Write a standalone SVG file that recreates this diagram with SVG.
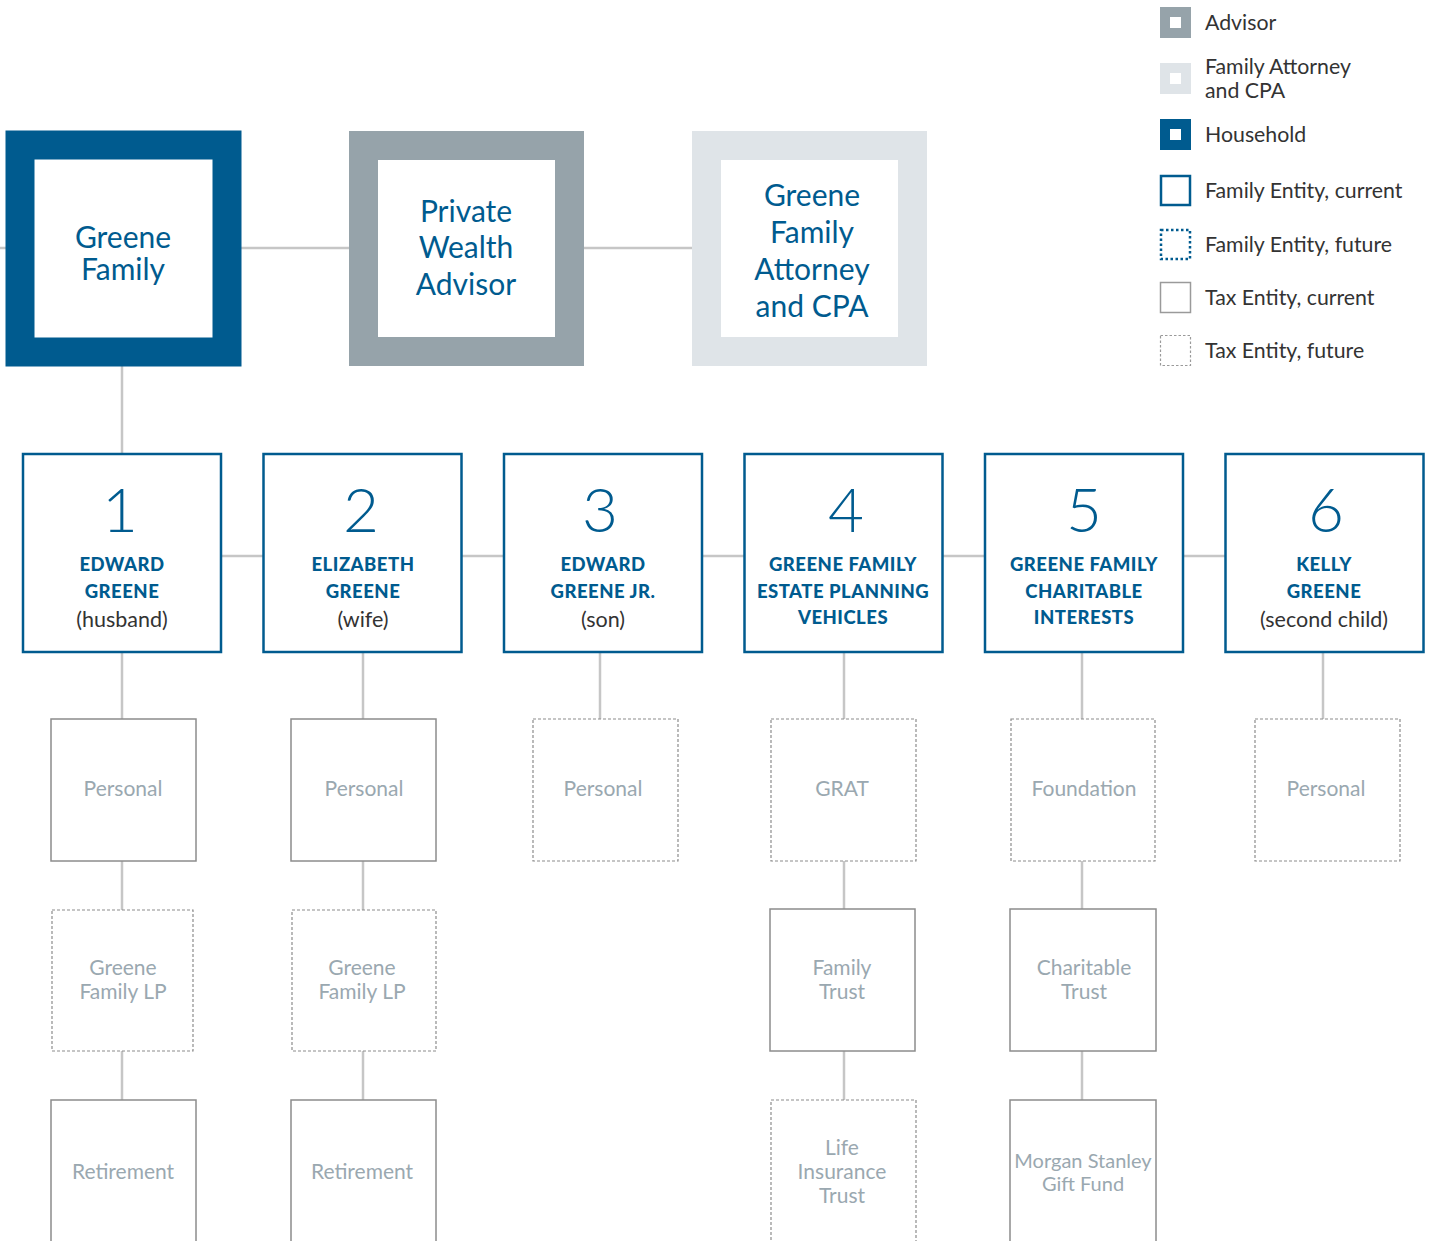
<svg xmlns="http://www.w3.org/2000/svg" width="1430" height="1241" viewBox="0 0 1430 1241">
<style>
.conn{stroke:#c6c6c6;stroke-width:2.5;fill:none}
.top{font-family:Lato,"Open Sans",sans-serif;font-size:30px;fill:#005b8f;text-anchor:middle}
.num{font-family:Lato,"Open Sans",sans-serif;font-weight:300;font-size:62px;fill:#005b8f;text-anchor:middle}
.fam{fill:#fff;stroke:#005b8f;stroke-width:2.5}
.name{font-family:Lato,"Open Sans",sans-serif;font-weight:900;font-size:18.5px;fill:#005b8f;text-anchor:middle;letter-spacing:0.5px}
.sub{font-family:Lato,"Open Sans",sans-serif;font-size:21.5px;fill:#333;text-anchor:middle}
.tax{fill:#fff;stroke:#8c8c8c;stroke-width:1.5}
.taxf{fill:#fff;stroke:#8c8c8c;stroke-width:1.2;stroke-dasharray:3 2}
.lbl{font-family:Lato,"Open Sans",sans-serif;font-size:21px;fill:#9aa8b0;text-anchor:middle}
.leg{font-family:Lato,"Open Sans",sans-serif;font-size:21.3px;fill:#333}
</style>
<rect width="1430" height="1241" fill="#fff"/>
<g id="connectors">
<line class="conn" x1="0" y1="248" x2="692" y2="248"/>
<line class="conn" x1="122" y1="366" x2="122" y2="453"/>
<line class="conn" x1="221" y1="556" x2="1225" y2="556"/>
<line class="conn" x1="122" y1="652" x2="122" y2="1100"/>
<line class="conn" x1="363" y1="652" x2="363" y2="1100"/>
<line class="conn" x1="600" y1="652" x2="600" y2="719"/>
<line class="conn" x1="844" y1="652" x2="844" y2="1100"/>
<line class="conn" x1="1082" y1="652" x2="1082" y2="1100"/>
<line class="conn" x1="1323" y1="652" x2="1323" y2="719"/>
</g>
<g id="greene-family">
<rect x="20" y="145" width="207" height="207" fill="#fff" stroke="#005b8f" stroke-width="29"/>
<text class="top" x="123" y="248">Greene</text>
<text class="top" x="123" y="280">Family</text>
</g>
<g id="advisor">
<rect x="363.5" y="145.5" width="206" height="206" fill="#fff" stroke="#96a3aa" stroke-width="29"/>
<text class="top" x="466" y="222">Private</text>
<text class="top" x="466" y="258">Wealth</text>
<text class="top" x="466" y="295">Advisor</text>
</g>
<g id="attorney">
<rect x="706.5" y="145.5" width="206" height="206" fill="#fff" stroke="#dfe4e8" stroke-width="29"/>
<text class="top" x="812" y="206">Greene</text>
<text class="top" x="812" y="243">Family</text>
<text class="top" x="812" y="280">Attorney</text>
<text class="top" x="812" y="317">and CPA</text>
</g>
<g id="n1">
<rect class="fam" x="23" y="454" width="198" height="198"/>
<text class="num" x="120" y="532">1</text>
<text class="name" x="122" y="571">EDWARD</text>
<text class="name" x="122" y="598">GREENE</text>
<text class="sub" x="122" y="627">(husband)</text>
</g>
<g id="n2">
<rect class="fam" x="263.5" y="454" width="198" height="198"/>
<text class="num" x="361" y="532">2</text>
<text class="name" x="363" y="571">ELIZABETH</text>
<text class="name" x="363" y="598">GREENE</text>
<text class="sub" x="363" y="627">(wife)</text>
</g>
<g id="n3">
<rect class="fam" x="504" y="454" width="198" height="198"/>
<text class="num" x="600" y="532">3</text>
<text class="name" x="603" y="571">EDWARD</text>
<text class="name" x="603" y="598">GREENE JR.</text>
<text class="sub" x="603" y="627">(son)</text>
</g>
<g id="n4">
<rect class="fam" x="744.5" y="454" width="198" height="198"/>
<text class="num" x="846" y="532">4</text>
<text class="name" x="843" y="571">GREENE FAMILY</text>
<text class="name" x="843" y="598">ESTATE PLANNING</text>
<text class="name" x="843" y="624">VEHICLES</text>
</g>
<g id="n5">
<rect class="fam" x="985" y="454" width="198" height="198"/>
<text class="num" x="1084" y="532">5</text>
<text class="name" x="1084" y="571">GREENE FAMILY</text>
<text class="name" x="1084" y="598">CHARITABLE</text>
<text class="name" x="1084" y="624">INTERESTS</text>
</g>
<g id="n6">
<rect class="fam" x="1225.5" y="454" width="198" height="198"/>
<text class="num" x="1326" y="532">6</text>
<text class="name" x="1324" y="571">KELLY</text>
<text class="name" x="1324" y="598">GREENE</text>
<text class="sub" x="1324" y="627">(second child)</text>
</g>
<g id="c1-personal"><rect class="tax" x="51" y="719" width="145" height="142"/><text class="lbl" x="123" y="796">Personal</text></g>
<g id="c1-lp"><rect class="taxf" x="52" y="910" width="141" height="141"/><text class="lbl" x="123" y="975">Greene</text><text class="lbl" x="123" y="999">Family LP</text></g>
<g id="c1-ret"><rect class="tax" x="51" y="1100" width="145" height="160"/><text class="lbl" x="123" y="1179">Retirement</text></g>
<g id="c2-personal"><rect class="tax" x="291" y="719" width="145" height="142"/><text class="lbl" x="364" y="796">Personal</text></g>
<g id="c2-lp"><rect class="taxf" x="292" y="910" width="144" height="141"/><text class="lbl" x="362" y="975">Greene</text><text class="lbl" x="362" y="999">Family LP</text></g>
<g id="c2-ret"><rect class="tax" x="291" y="1100" width="145" height="160"/><text class="lbl" x="362" y="1179">Retirement</text></g>
<g id="c3-personal"><rect class="taxf" x="533" y="719" width="145" height="142"/><text class="lbl" x="603" y="796">Personal</text></g>
<g id="c4-grat"><rect class="taxf" x="771" y="719" width="145" height="142"/><text class="lbl" x="842" y="796">GRAT</text></g>
<g id="c4-trust"><rect class="tax" x="770" y="909" width="145" height="142"/><text class="lbl" x="842" y="975">Family</text><text class="lbl" x="842" y="999">Trust</text></g>
<g id="c4-life"><rect class="taxf" x="771" y="1100" width="145" height="160"/><text class="lbl" x="842" y="1155">Life</text><text class="lbl" x="842" y="1179">Insurance</text><text class="lbl" x="842" y="1203">Trust</text></g>
<g id="c5-found"><rect class="taxf" x="1011" y="719" width="144" height="142"/><text class="lbl" x="1084" y="796">Foundation</text></g>
<g id="c5-trust"><rect class="tax" x="1010" y="909" width="146" height="142"/><text class="lbl" x="1084" y="975">Charitable</text><text class="lbl" x="1084" y="999">Trust</text></g>
<g id="c5-gift"><rect class="tax" x="1010" y="1100" width="146" height="160"/><text class="lbl" x="1083" y="1168" style="font-size:20px">Morgan Stanley</text><text class="lbl" x="1083" y="1191" style="font-size:20px">Gift Fund</text></g>
<g id="c6-personal"><rect class="taxf" x="1255" y="719" width="145" height="142"/><text class="lbl" x="1326" y="796">Personal</text></g>
<g id="legend">
<rect x="1165" y="12" width="21" height="21" fill="#fff" stroke="#96a3aa" stroke-width="10"/>
<text class="leg" x="1205" y="30">Advisor</text>
<rect x="1165" y="68" width="21" height="21" fill="#fff" stroke="#dfe4e8" stroke-width="10"/>
<text class="leg" x="1205" y="74">Family Attorney</text>
<text class="leg" x="1205" y="98">and CPA</text>
<rect x="1165" y="124" width="21" height="21" fill="#fff" stroke="#005b8f" stroke-width="10"/>
<text class="leg" x="1205" y="142">Household</text>
<rect x="1161" y="176" width="29" height="29" fill="#fff" stroke="#005b8f" stroke-width="2.5"/>
<text class="leg" x="1205" y="198">Family Entity, current</text>
<rect x="1161" y="230" width="29" height="29" fill="#fff" stroke="#005b8f" stroke-width="2.5" stroke-dasharray="2.5 2.5"/>
<text class="leg" x="1205" y="252">Family Entity, future</text>
<rect x="1160.5" y="282.5" width="30" height="30" fill="#fff" stroke="#9a9a9a" stroke-width="1.5"/>
<text class="leg" x="1205" y="305">Tax Entity, current</text>
<rect x="1160.5" y="335.5" width="30" height="30" fill="#fff" stroke="#9a9a9a" stroke-width="1.2" stroke-dasharray="2.5 2"/>
<text class="leg" x="1205" y="358">Tax Entity, future</text>
</g>
</svg>
